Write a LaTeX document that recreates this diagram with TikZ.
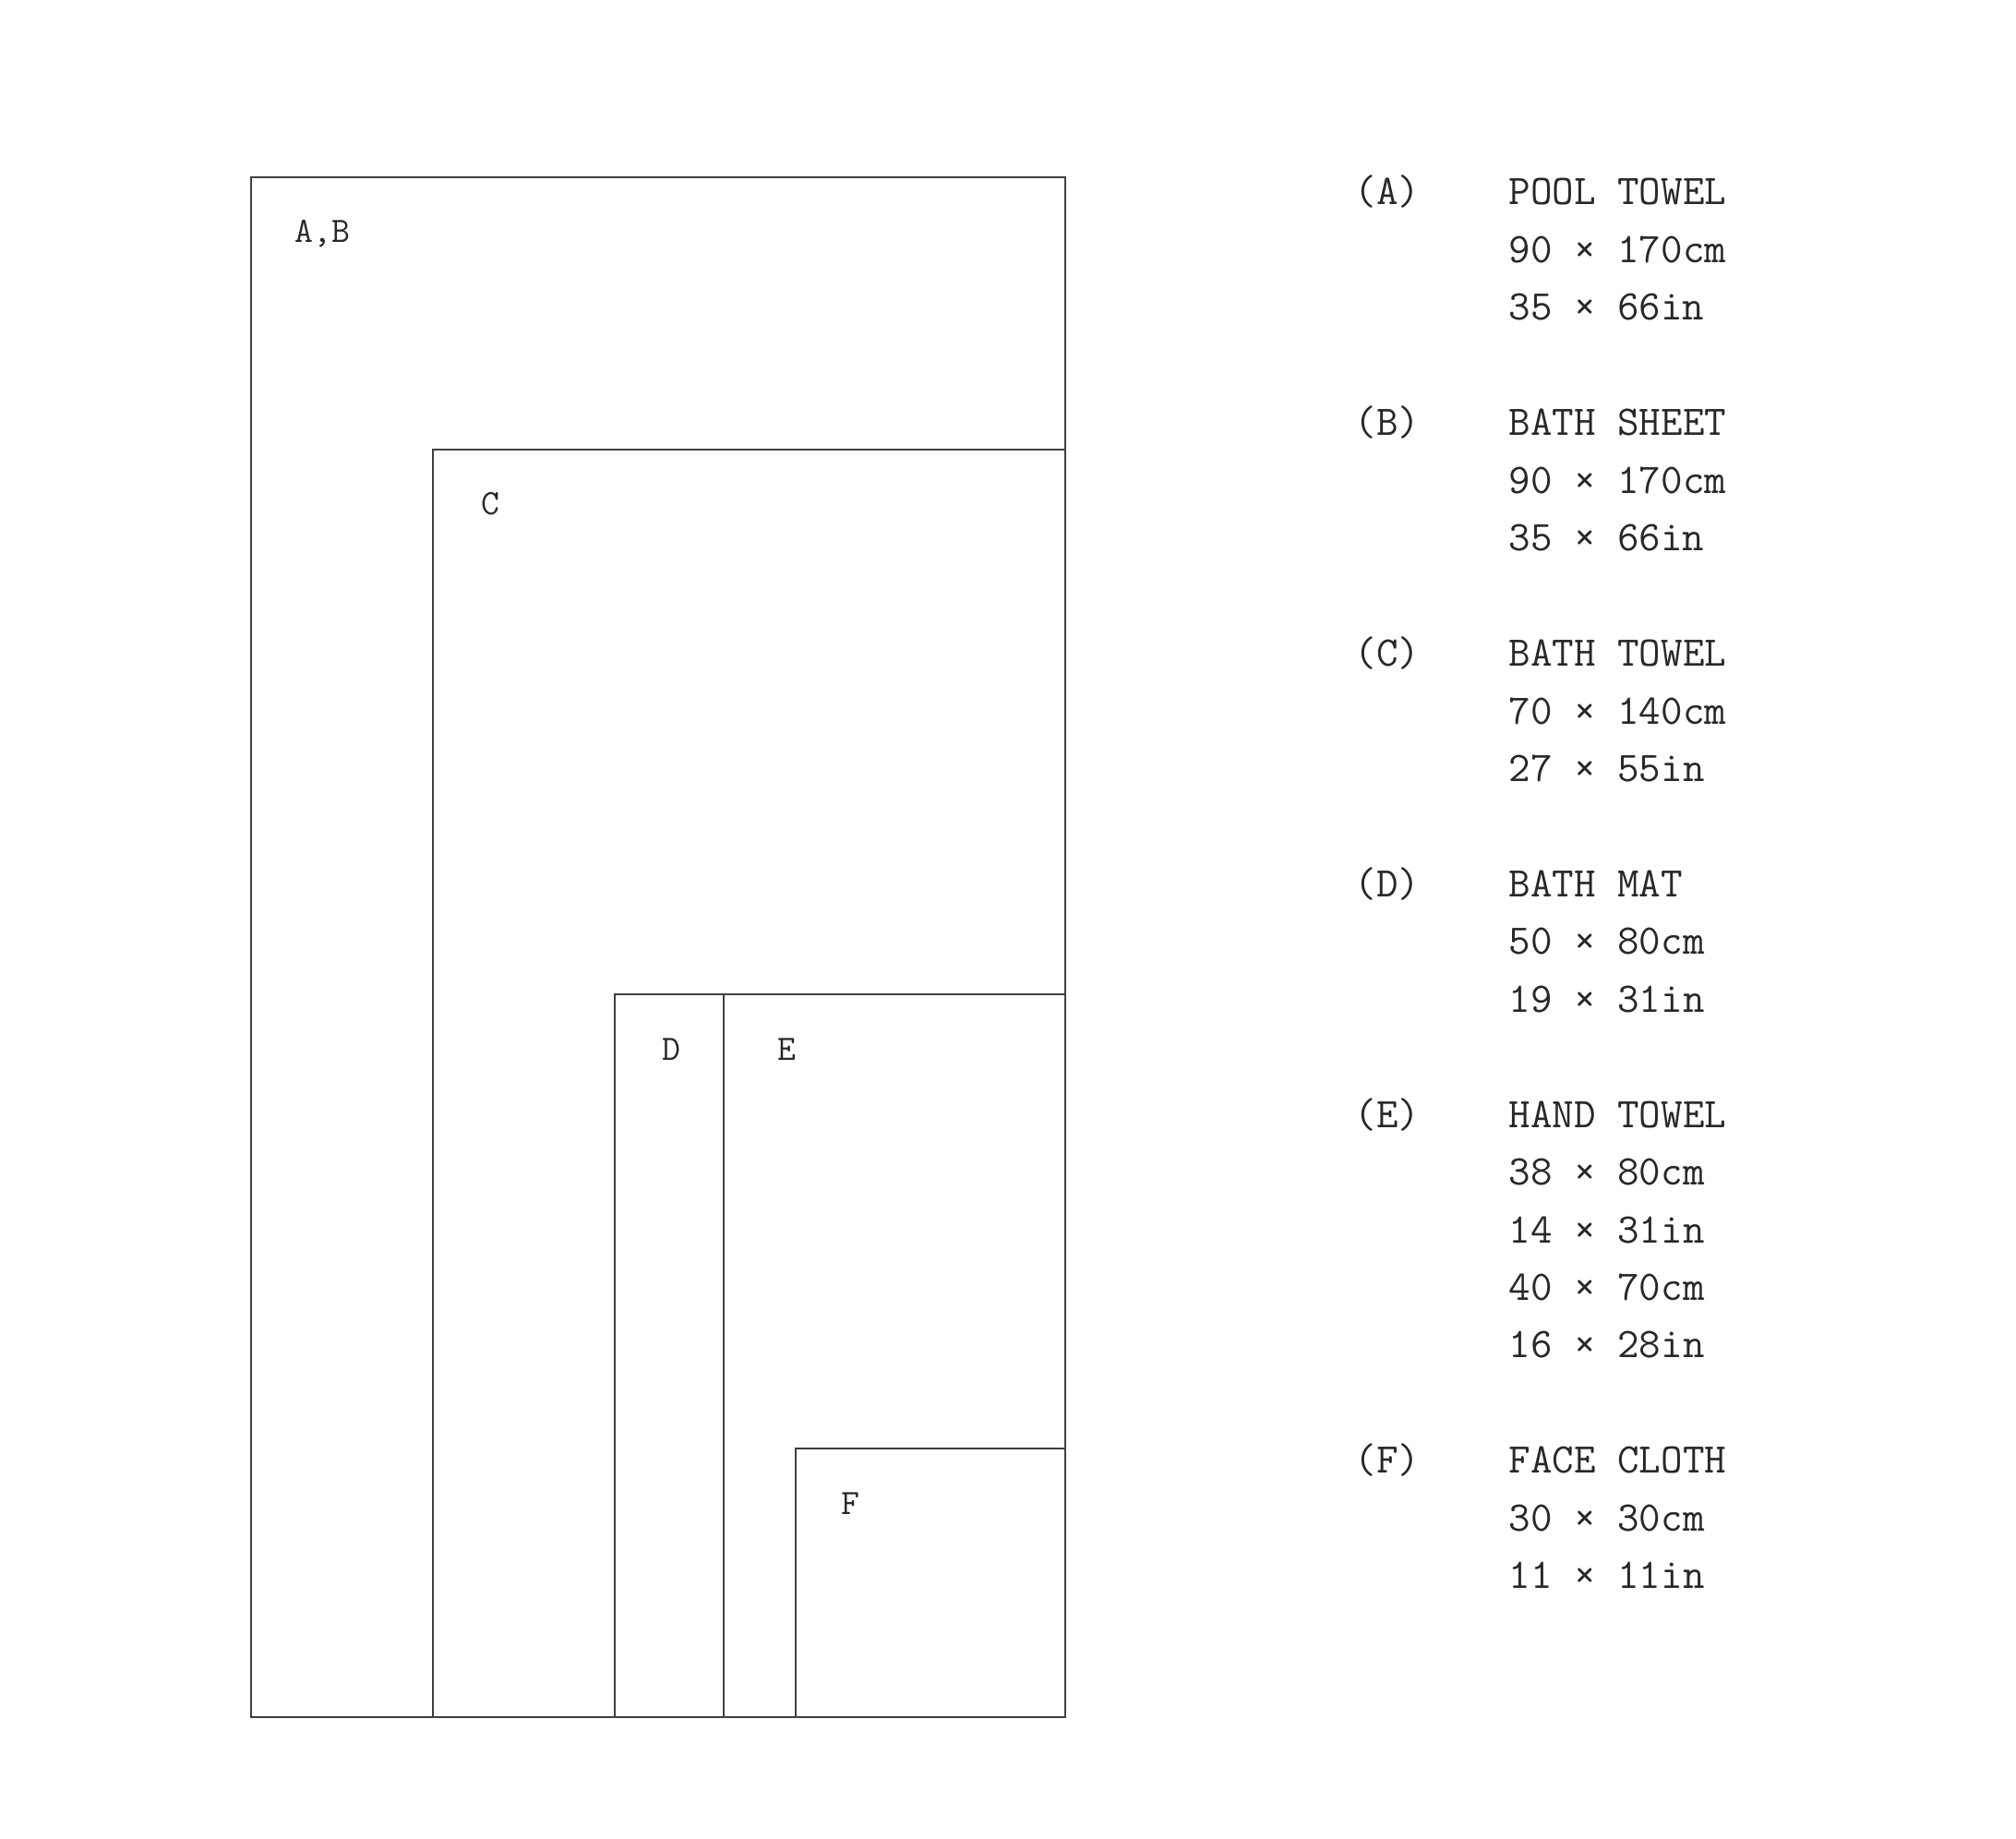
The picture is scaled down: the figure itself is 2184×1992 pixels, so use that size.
\documentclass[tikz,border=0pt]{standalone}
\begin{document}
\definecolor{linec}{RGB}{64,64,64}
\definecolor{txtc}{RGB}{40,40,40}
\begin{tikzpicture}[x=0.01cm,y=-0.01cm,
  boxline/.style={draw=linec,line width=0.6pt},
  boxlbl/.style={anchor=base west,inner sep=0pt,text=txtc,font=\ttfamily\fontsize{11}{13}\selectfont},
  listname/.style={anchor=base west,inner sep=0pt,text=txtc,font=\ttfamily\fontsize{13}{15}\selectfont},
  listtext/.style={anchor=base west,inner sep=0pt,text=txtc,font=\ttfamily\fontsize{13}{15}\selectfont}]
\useasboundingbox (0,0) rectangle (2184,1992);
% rectangles
\draw[boxline] (272,192) rectangle (1154,1860);
\draw[boxline] (469,487) rectangle (1154,1860);
\draw[boxline] (666,1077) rectangle (784,1860);
\draw[boxline] (784,1077) rectangle (1154,1860);
\draw[boxline] (862,1569) rectangle (1154,1860);
% box labels
\node[boxlbl] (lab) at (319,263) {A,B};
\node[boxlbl] (lc) at (521,558) {C};
\node[boxlbl] (ld) at (717,1149) {D};
\node[boxlbl] (le) at (842,1149) {E};
\node[boxlbl] (lf) at (911,1640) {F};
% list
\def\xa{1467}
\def\xb{1634}
\node[listname] (na) at (\xa,222) {(A)};
\node[listtext] (a1) at (\xb,222) {POOL TOWEL};
\node[listtext] (a2) at (\xb,284.45) {90 × 170cm};
\node[listtext] (a3) at (\xb,346.9) {35 × 66in};
\node[listname] (nb) at (\xa,471.8) {(B)};
\node[listtext] (b1) at (\xb,471.8) {BATH SHEET};
\node[listtext] (b2) at (\xb,534.25) {90 × 170cm};
\node[listtext] (b3) at (\xb,596.7) {35 × 66in};
\node[listname] (nc) at (\xa,721.6) {(C)};
\node[listtext] (c1) at (\xb,721.6) {BATH TOWEL};
\node[listtext] (c2) at (\xb,784.05) {70 × 140cm};
\node[listtext] (c3) at (\xb,846.5) {27 × 55in};
\node[listname] (nd) at (\xa,971.4) {(D)};
\node[listtext] (d1) at (\xb,971.4) {BATH MAT};
\node[listtext] (d2) at (\xb,1033.85) {50 × 80cm};
\node[listtext] (d3) at (\xb,1096.3) {19 × 31in};
\node[listname] (ne) at (\xa,1221.2) {(E)};
\node[listtext] (e1) at (\xb,1221.2) {HAND TOWEL};
\node[listtext] (e2) at (\xb,1283.65) {38 × 80cm};
\node[listtext] (e3) at (\xb,1346.1) {14 × 31in};
\node[listtext] (e4) at (\xb,1408.55) {40 × 70cm};
\node[listtext] (e5) at (\xb,1471) {16 × 28in};
\node[listname] (nf) at (\xa,1595.9) {(F)};
\node[listtext] (f1) at (\xb,1595.9) {FACE CLOTH};
\node[listtext] (f2) at (\xb,1658.35) {30 × 30cm};
\node[listtext] (f3) at (\xb,1720.8) {11 × 11in};
\end{tikzpicture}
\end{document}
